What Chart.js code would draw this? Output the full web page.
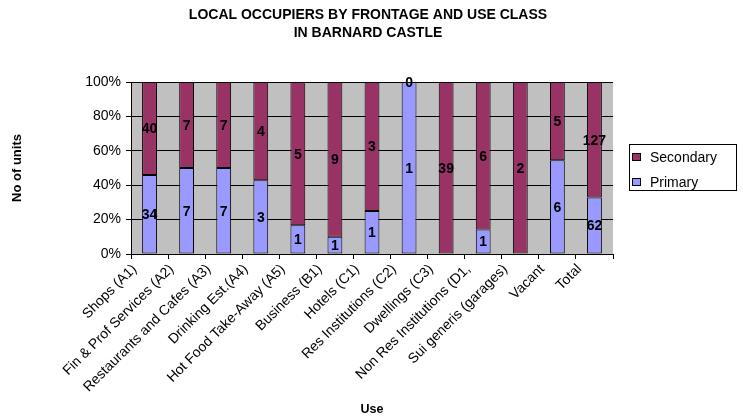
<!DOCTYPE html>
<html>
<head>
<meta charset="utf-8">
<script src="https://cdn.jsdelivr.net/npm/chart.js@4.4.1/dist/chart.umd.min.js"></script>
<style>
  html, body { margin: 0; padding: 0; background: #fff; }
</style>
</head>
<body>
<canvas id="chart" width="743" height="417"></canvas>
<script>
const categories = [
    'Shops (A1)', 'Fin & Prof Services (A2)', 'Restaurants and Cafes (A3)', 'Drinking Est.(A4)',
    'Hot Food Take-Away (A5)', 'Business (B1)', 'Hotels (C1)', 'Res Institutions (C2)',
    'Dwellings (C3)', 'Non Res Institutions (D1,', 'Sui generis (garages)', 'Vacant', 'Total'
]
const primary   = [34, 7, 7, 3, 1, 1, 1, 1, 0, 1, 0, 6, 62]
const secondary = [40, 7, 7, 4, 5, 9, 3, 0, 39, 6, 2, 5, 127]
const yTicks = [0, 20, 40, 60, 80, 100]
const titleLines = ['LOCAL OCCUPIERS BY FRONTAGE AND USE CLASS', 'IN BARNARD CASTLE']

const FONT = "'Liberation Sans', Arial, sans-serif"

// share of each category's total, so the bars stack to 100%
const toPercent = (vals) => vals.map((v, i) => {
    const total = primary[i] + secondary[i]
    return total ? v / total * 100 : 0
})

const plotBackground = {
    id: 'plotBackground',
    beforeDraw(chart) {
        const { ctx, chartArea: a } = chart
        ctx.save()
        ctx.fillStyle = '#c0c0c0'
        ctx.fillRect(a.left, a.top, a.right - a.left, a.bottom - a.top)
        ctx.restore()
    }
}

// title centred on the whole canvas, legend column included
const pageTitle = {
    id: 'pageTitle',
    afterDraw(chart) {
        const { ctx } = chart
        ctx.save()
        ctx.font = `bold 14px ${FONT}`
        ctx.fillStyle = '#000'
        ctx.textAlign = 'center'
        ctx.textBaseline = 'middle'
        titleLines.forEach((t, i) => ctx.fillText(t, 368, 15 + i * 18))
        ctx.restore()
    }
}

// unit counts written in the middle of each segment
const countLabels = {
    id: 'countLabels',
    afterDatasetsDraw(chart) {
        const { ctx } = chart
        ctx.save()
        ctx.font = `bold 14px ${FONT}`
        ctx.fillStyle = '#000'
        ctx.textAlign = 'center'
        ctx.textBaseline = 'middle'
        chart.data.datasets.forEach((ds, di) => {
            const meta = chart.getDatasetMeta(di)
            meta.data.forEach((bar, i) => {
                const n = ds.counts[i]
                if (n === 0 && ds.label === 'Primary') return
                ctx.fillText(String(n), bar.x, (bar.y + bar.base) / 2 + 1)
            })
        })
        ctx.restore()
    }
}

// boxed legend on the right, Secondary listed first
const boxLegend = {
    id: 'boxLegend',
    afterDraw(chart) {
        const { ctx } = chart
        const items = chart.data.datasets.slice().reverse()
        ctx.save()
        ctx.strokeStyle = '#000'
        ctx.lineWidth = 1
        ctx.strokeRect(629.5, 144.5, 107, 46)
        ctx.font = `14px ${FONT}`
        ctx.textBaseline = 'middle'
        items.forEach((ds, k) => {
            const y = 157 + k * 25
            ctx.fillStyle = ds.backgroundColor
            ctx.fillRect(632.5, y - 3.5, 8, 7)
            ctx.strokeRect(632.5, y - 3.5, 8, 7)
            ctx.fillStyle = '#000'
            ctx.fillText(ds.label, 650, y + 1)
        })
        ctx.restore()
    }
}

new Chart(document.getElementById('chart'), {
    type: 'bar',
    data: {
        labels: categories,
        datasets: [{
            label: 'Primary',
            data: toPercent(primary),
            counts: primary,
            backgroundColor: '#9999ff',
            borderColor: '#000',
            borderWidth: 1,
            borderSkipped: false,
            barPercentage: 0.4,
            categoryPercentage: 1
        }, {
            label: 'Secondary',
            data: toPercent(secondary),
            counts: secondary,
            backgroundColor: '#993366',
            borderColor: '#000',
            borderWidth: 1,
            borderSkipped: false,
            barPercentage: 0.4,
            categoryPercentage: 1
        }]
    },
    options: {
        responsive: false,
        animation: false,
        devicePixelRatio: 1,
        layout: { padding: { left: 0, right: 130, top: 82, bottom: 0 } },
        plugins: {
            legend: { display: false },
            tooltip: { enabled: false },
            title: { display: false }
        },
        scales: {
            x: {
                stacked: true,
                afterFit: (s) => { s.height = 163 },
                grid: { drawOnChartArea: false, offset: true, color: '#000', tickLength: 5 },
                border: { color: '#000' },
                ticks: {
                    autoSkip: false, minRotation: 45, maxRotation: 45,
                    color: '#000', padding: 2, labelOffset: -15,
                    font: { family: FONT, size: 14 }
                },
                title: {
                    display: true, text: 'Use', color: '#000',
                    font: { family: FONT, size: 12.5, weight: 'bold' },
                    padding: { top: 0, bottom: 0 }
                }
            },
            y: {
                stacked: true,
                min: 0, max: 100,
                afterFit: (s) => { s.width = 131 },
                afterBuildTicks: (s) => { s.ticks = yTicks.map(v => ({ value: v })) },
                grid: { color: '#000', tickLength: 5 },
                border: { color: '#000' },
                ticks: {
                    color: '#000', padding: 5,
                    font: { family: FONT, size: 14 },
                    callback: (v) => v + '%'
                },
                title: {
                    display: true, text: 'No of units', color: '#000',
                    font: { family: FONT, size: 13, weight: 'bold' },
                    padding: { top: 10, bottom: 0 }
                }
            }
        }
    },
    plugins: [plotBackground, pageTitle, countLabels, boxLegend]
})
</script>
</body>
</html>
